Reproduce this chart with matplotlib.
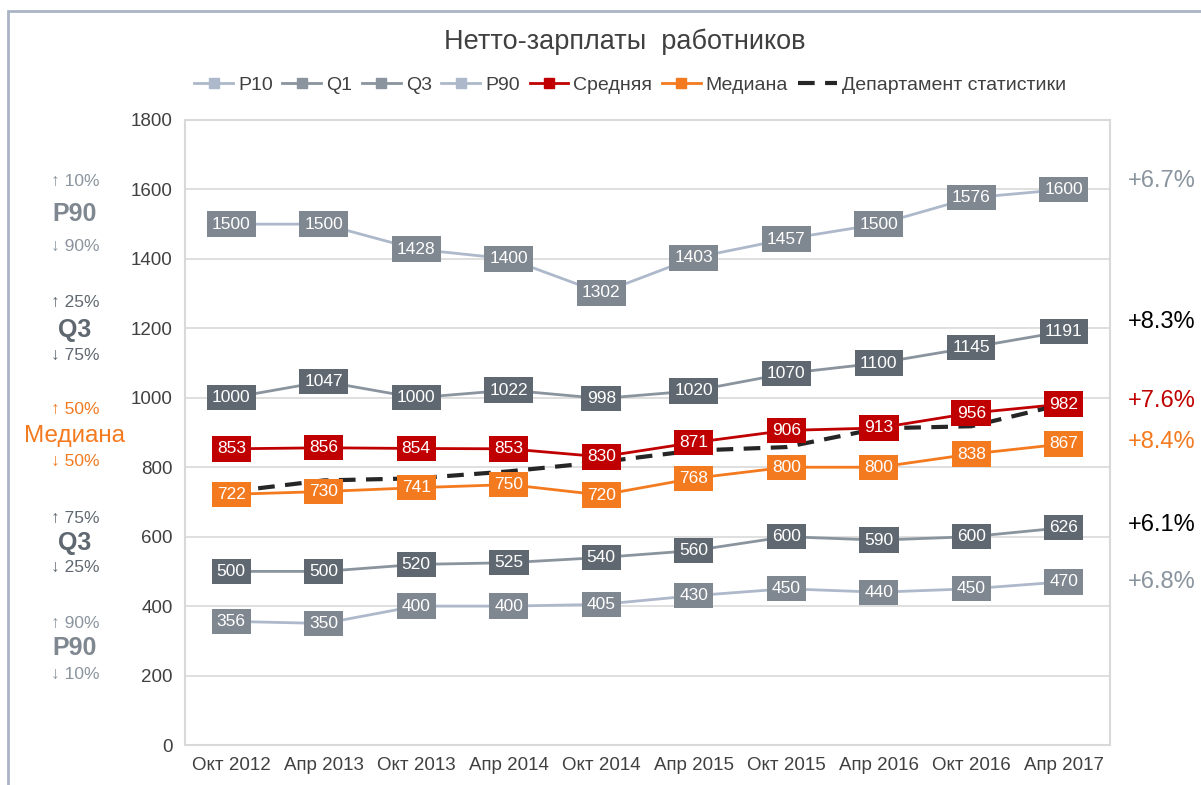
import numpy as np
import matplotlib.pyplot as plt
from matplotlib.patches import Rectangle
import matplotlib.transforms as mtransforms

plt.rcParams['font.family'] = ['Liberation Sans', 'DejaVu Sans']

# data
periods = ['Окт 2012', 'Апр 2013', 'Окт 2013', 'Апр 2014', 'Окт 2014',
           'Апр 2015', 'Окт 2015', 'Апр 2016', 'Окт 2016', 'Апр 2017']
p10 = [356, 350, 400, 400, 405, 430, 450, 440, 450, 470]
q1 = [500, 500, 520, 525, 540, 560, 600, 590, 600, 626]
q3 = [1000, 1047, 1000, 1022, 998, 1020, 1070, 1100, 1145, 1191]
p90 = [1500, 1500, 1428, 1400, 1302, 1403, 1457, 1500, 1576, 1600]
mean = [853, 856, 854, 853, 830, 871, 906, 913, 956, 982]
median = [722, 730, 741, 750, 720, 768, 800, 800, 838, 867]
dept = [730, 762, 768, 788, 815, 848, 858, 912, 918, 982]

growth_labels = ['+6.7%', '+8.3%', '+7.6%', '+8.4%', '+6.1%', '+6.8%']
growth_y = [1624, 1218, 991, 873, 634, 469]

light = '#adb9ca'
mid = '#8a949e'
dark = '#5f6870'
boxmid = '#7f8790'
red = '#c00000'
orange = '#f47a20'

fig = plt.figure(figsize=(12.01, 7.85), dpi=100)
ax = fig.add_axes([185/1201, 1 - 745/785, (1110-185)/1201, (745-120)/785])

# outer chart border
fig.patches.append(Rectangle((8/1201, -0.1), 1.2, 1 - 11/785 + 0.1,
                             transform=fig.transFigure, fill=False,
                             edgecolor='#aab4c4', lw=2))

x = np.arange(len(periods))

series = [
    ('P10', p10, light, boxmid),
    ('Q1', q1, mid, dark),
    ('Q3', q3, mid, dark),
    ('P90', p90, light, boxmid),
    ('Средняя', mean, red, red),
    ('Медиана', median, orange, orange),
]

for name, vals, lc, bc in series:
    ax.plot(x, vals, color=lc, lw=2, marker='s', markersize=7, label=name, zorder=2)
    for xi, v in zip(x, vals):
        ax.text(xi, v, str(v), ha='center', va='center', color='white',
                fontsize=12.5, zorder=5,
                bbox=dict(boxstyle='square,pad=0.3', fc=bc, ec='none'))

ax.plot(x, dept, color='#262626', lw=3, ls=(0, (4, 2.5)),
        label='Департамент статистики', zorder=3)

ax.set_xlim(-0.5, len(periods) - 0.5)
ax.set_ylim(0, 1800)
ax.set_yticks(range(0, 1801, 200))
ax.set_xticks(x)
ax.set_xticklabels(periods)
ax.tick_params(length=0, labelsize=13.5, colors='#404040', pad=9)
ax.grid(axis='y', color='#d9d9d9', lw=1.2)
ax.set_axisbelow(True)
for s in ax.spines.values():
    s.set_color('#d9d9d9')
    s.set_linewidth(1.5)

fig.text(625/1201, 1 - 42/785, 'Нетто-зарплаты  работников', ha='center',
         va='center', fontsize=19.5, color='#404040')

fig.legend(loc='center', bbox_to_anchor=(630/1201, 1 - 85/785), ncol=7,
           frameon=False, fontsize=14, handlelength=2.0, columnspacing=0.5,
           handletextpad=0.25, labelcolor='#404040')

# right side growth labels
trans = mtransforms.blended_transform_factory(fig.transFigure, ax.transData)
growth_colors = [mid, 'black', red, orange, 'black', mid]
for lab, gy, gc in zip(growth_labels, growth_y, growth_colors):
    fig.text(1162/1201, gy, lab, transform=trans, ha='center', va='center',
             fontsize=17, color=gc)

# left side legend of percentiles
left = [
    ('↑ 10%', 181, mid, 12.5, 'normal'), ('P90', 214, boxmid, 18, 'bold'), ('↓ 90%', 246, mid, 12.5, 'normal'),
    ('↑ 25%', 302, dark, 12.5, 'normal'), ('Q3', 330, dark, 18, 'bold'), ('↓ 75%', 355, dark, 12.5, 'normal'),
    ('↑ 50%', 409, orange, 12.5, 'normal'), ('Медиана', 436, orange, 17.5, 'normal'), ('↓ 50%', 461, orange, 12.5, 'normal'),
    ('↑ 75%', 518, dark, 12.5, 'normal'), ('Q3', 543, dark, 18, 'bold'), ('↓ 25%', 567, dark, 12.5, 'normal'),
    ('↑ 90%', 623, mid, 12.5, 'normal'), ('P90', 648, boxmid, 18, 'bold'), ('↓ 10%', 674, mid, 12.5, 'normal'),
]
for t, yy, c, fs, fw in left:
    fig.text(75/1201, 1 - yy/785, t, ha='center', va='center', color=c,
             fontsize=fs, fontweight=fw)

fig.savefig('out.png', dpi=100)
